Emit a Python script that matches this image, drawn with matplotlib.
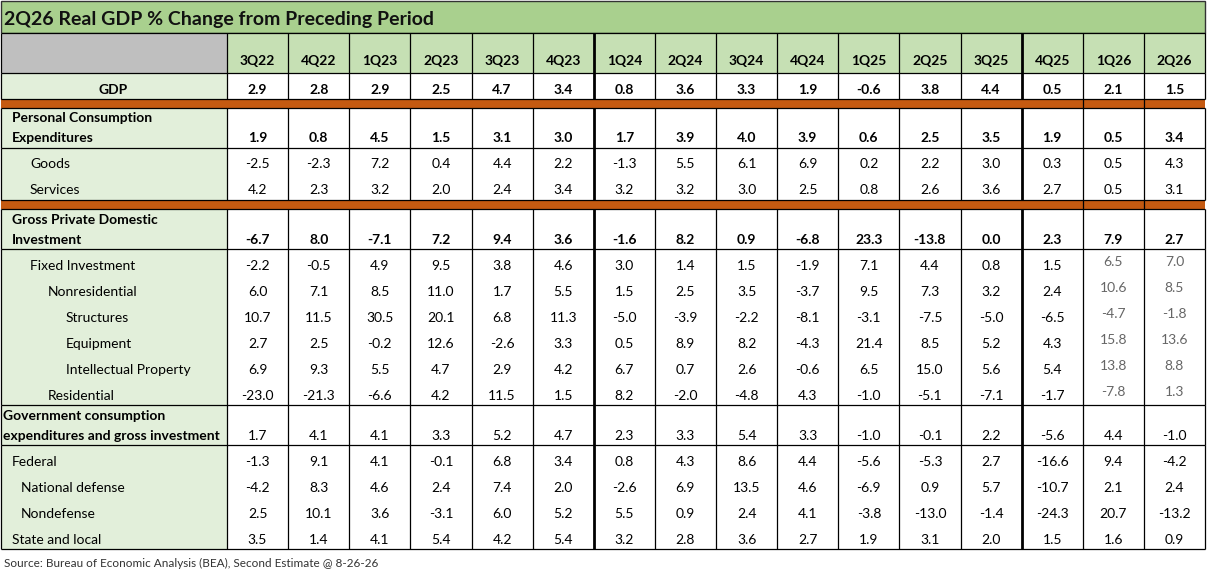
import matplotlib
matplotlib.use("Agg")
import matplotlib.pyplot as plt
from matplotlib.patches import Rectangle

plt.rcParams['font.family'] = ['Lato', 'DejaVu Sans']

title = "2Q26 Real GDP % Change from Preceding Period"
source = "Source: Bureau of Economic Analysis (BEA), Second Estimate @ 8-26-26"

quarters = ["3Q22", "4Q22", "1Q23", "2Q23", "3Q23", "4Q23", "1Q24", "2Q24",
            "3Q24", "4Q24", "1Q25", "2Q25", "3Q25", "4Q25", "1Q26", "2Q26"]

gdp = [2.9, 2.8, 2.9, 2.5, 4.7, 3.4, 0.8, 3.6, 3.3, 1.9, -0.6, 3.8, 4.4, 0.5, 2.1, 1.5]
pce = [1.9, 0.8, 4.5, 1.5, 3.1, 3.0, 1.7, 3.9, 4.0, 3.9, 0.6, 2.5, 3.5, 1.9, 0.5, 3.4]
goods = [-2.5, -2.3, 7.2, 0.4, 4.4, 2.2, -1.3, 5.5, 6.1, 6.9, 0.2, 2.2, 3.0, 0.3, 0.5, 4.3]
services = [4.2, 2.3, 3.2, 2.0, 2.4, 3.4, 3.2, 3.2, 3.0, 2.5, 0.8, 2.6, 3.6, 2.7, 0.5, 3.1]
gpdi = [-6.7, 8.0, -7.1, 7.2, 9.4, 3.6, -1.6, 8.2, 0.9, -6.8, 23.3, -13.8, 0.0, 2.3, 7.9, 2.7]
fixed_inv = [-2.2, -0.5, 4.9, 9.5, 3.8, 4.6, 3.0, 1.4, 1.5, -1.9, 7.1, 4.4, 0.8, 1.5, 6.5, 7.0]
nonres = [6.0, 7.1, 8.5, 11.0, 1.7, 5.5, 1.5, 2.5, 3.5, -3.7, 9.5, 7.3, 3.2, 2.4, 10.6, 8.5]
structures = [10.7, 11.5, 30.5, 20.1, 6.8, 11.3, -5.0, -3.9, -2.2, -8.1, -3.1, -7.5, -5.0, -6.5, -4.7, -1.8]
equipment = [2.7, 2.5, -0.2, 12.6, -2.6, 3.3, 0.5, 8.9, 8.2, -4.3, 21.4, 8.5, 5.2, 4.3, 15.8, 13.6]
intellectual = [6.9, 9.3, 5.5, 4.7, 2.9, 4.2, 6.7, 0.7, 2.6, -0.6, 6.5, 15.0, 5.6, 5.4, 13.8, 8.8]
residential = [-23.0, -21.3, -6.6, 4.2, 11.5, 1.5, 8.2, -2.0, -4.8, 4.3, -1.0, -5.1, -7.1, -1.7, -7.8, 1.3]
gov = [1.7, 4.1, 4.1, 3.3, 5.2, 4.7, 2.3, 3.3, 5.4, 3.3, -1.0, -0.1, 2.2, -5.6, 4.4, -1.0]
federal = [-1.3, 9.1, 4.1, -0.1, 6.8, 3.4, 0.8, 4.3, 8.6, 4.4, -5.6, -5.3, 2.7, -16.6, 9.4, -4.2]
defense = [-4.2, 8.3, 4.6, 2.4, 7.4, 2.0, -2.6, 6.9, 13.5, 4.6, -6.9, 0.9, 5.7, -10.7, 2.1, 2.4]
nondefense = [2.5, 10.1, 3.6, -3.1, 6.0, 5.2, 5.5, 0.9, 2.4, 4.1, -3.8, -13.0, -1.4, -24.3, 20.7, -13.2]
state_local = [3.5, 1.4, 4.1, 5.4, 4.2, 5.4, 3.2, 2.8, 3.6, 2.7, 1.9, 3.1, 2.0, 1.5, 1.6, 0.9]

# each row: (label lines, values, label x, label bold, value bold, gray last two)
# rows inside one group share a box, "band" is the orange separator
groups = [
    [(["GDP"], gdp, "center", True, True, False)],
    "band",
    [(["Personal Consumption", "Expenditures"], pce, 12, True, True, False)],
    [(["Goods"], goods, 30, False, False, False),
     (["Services"], services, 30, False, False, False)],
    "band",
    [(["Gross Private Domestic", "Investment"], gpdi, 12, True, True, False)],
    [(["Fixed Investment"], fixed_inv, 30, False, False, True),
     (["Nonresidential"], nonres, 48, False, False, True),
     (["Structures"], structures, 66, False, False, True),
     (["Equipment"], equipment, 66, False, False, True),
     (["Intellectual Property"], intellectual, 66, False, False, True),
     (["Residential"], residential, 48, False, False, True)],
    [(["Government consumption", "expenditures and gross investment"], gov, 3, True, False, False)],
    [(["Federal"], federal, 12, False, False, False),
     (["National defense"], defense, 21, False, False, False),
     (["Nondefense"], nondefense, 21, False, False, False),
     (["State and local"], state_local, 12, False, False, False)],
]

W, H = 1207, 576
fig = plt.figure(figsize=(W / 100, H / 100), dpi=100)
ax = fig.add_axes([0, 0, 1, 1])
ax.set_xlim(0, W)
ax.set_ylim(H, 0)
ax.axis('off')

label_w = 227
right = 1205
ncol = len(quarters)
col_w = (right - label_w) / ncol
col_x = [label_w + i * col_w for i in range(ncol + 1)]
thick_cols = [6, 13]

title_top, title_bot = 1, 33
head_bot = 73
row_h = 26
two_h = 40
band_h = 9

fs = 10
green_title = '#a9d08e'
green_head = '#c6e0b4'
green_label = '#e2efda'
gray_head = '#bfbfbf'
orange = '#c55a11'
gray_text = '#666666'

# title band
ax.add_patch(Rectangle((1, title_top), right - 1, title_bot - title_top, fc=green_title, ec='#333333', lw=1))
ax.text(4, (title_top + title_bot) / 2 + 2, title, fontsize=14, fontweight='bold', va='center', ha='left', color='#111111')

# header
ax.add_patch(Rectangle((1, title_bot), label_w - 1, head_bot - title_bot, fc=gray_head, ec='none'))
ax.add_patch(Rectangle((label_w, title_bot), right - label_w, head_bot - title_bot, fc=green_head, ec='none'))
for i, q in enumerate(quarters):
    ax.text((col_x[i] + col_x[i + 1]) / 2, head_bot - 12, q, fontsize=fs, fontweight='bold', ha='center', va='center')

hlines = [title_bot, head_bot]
y = head_bot
vspans = [(title_bot, head_bot)]
for g in groups:
    if g == "band":
        ax.add_patch(Rectangle((1, y), right - 1, band_h, fc=orange, ec='none'))
        for c in (14, 15):
            ax.plot([col_x[c], col_x[c]], [y, y + band_h], color='black', lw=0.9, solid_capstyle='butt')
        y += band_h
        hlines.append(y)
        continue
    gh = sum(two_h if len(r[0]) == 2 else row_h for r in g)
    ax.add_patch(Rectangle((1, y), label_w - 1, gh, fc=green_label, ec='none'))
    ax.add_patch(Rectangle((label_w, y), right - label_w, gh, fc='white', ec='none'))
    vspans.append((y, y + gh))
    for lines, vals, lx, lbold, vbold, gray in g:
        h = two_h if len(lines) == 2 else row_h
        last_y = y + h - 9.5
        for k, line in enumerate(lines):
            ty = last_y - (len(lines) - 1 - k) * 20
            if lx == "center":
                ax.text(label_w / 2, ty, line, fontsize=fs, fontweight='bold' if lbold else 'normal',
                        ha='center', va='center')
            else:
                ax.text(lx, ty, line, fontsize=fs, fontweight='bold' if lbold else 'normal',
                        ha='left', va='center')
        for i, v in enumerate(vals):
            is_gray = gray and i >= ncol - 2
            ax.text((col_x[i] + col_x[i + 1]) / 2, last_y - (3 if is_gray else 0), f"{v:.1f}",
                    fontsize=fs, fontweight='bold' if vbold else 'normal',
                    color=gray_text if is_gray else 'black', ha='center', va='center')
        y += h
    hlines.append(y)

table_bot = y

# grid lines
for yy in hlines:
    ax.plot([1, right], [yy, yy], color='black', lw=0.9, solid_capstyle='butt')
for y0, y1 in vspans:
    ax.plot([1, 1], [y0, y1], color='black', lw=0.9, solid_capstyle='butt')
    for c in range(ncol + 1):
        lw = 2.0 if c in thick_cols else 0.9
        ax.plot([col_x[c], col_x[c]], [y0, y1], color='black', lw=lw, solid_capstyle='butt')

ax.text(4, table_bot + 14, source, fontsize=8.5, color='#333333', ha='left', va='center')

fig.savefig('out.png', dpi=100)
